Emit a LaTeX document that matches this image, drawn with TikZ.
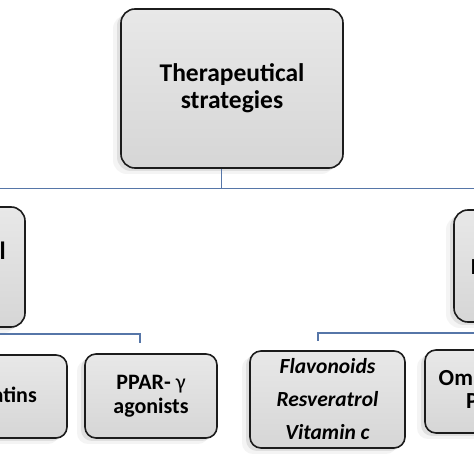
\documentclass[tikz,border=0pt]{standalone}
\usepackage{fontspec}
\setmainfont{Carlito}
\usetikzlibrary{shadows,calc}
\definecolor{boxtop}{RGB}{232,232,232}
\definecolor{boxbot}{RGB}{214,214,214}
\definecolor{boxedge}{RGB}{28,28,28}
\definecolor{linkblue}{RGB}{86,118,168}
\definecolor{shadowgray}{RGB}{150,150,150}
\begin{document}
\begin{tikzpicture}[x=1pt,y=1pt,
  box/.style={draw=boxedge, line width=1.6pt, rounded corners=11pt,
    top color=boxtop, bottom color=boxbot, inner sep=0pt, align=center,
    drop shadow={shadow xshift=-8pt, shadow yshift=-6pt, fill=shadowgray, opacity=0.10},
    drop shadow={shadow xshift=-4pt, shadow yshift=-3pt, fill=shadowgray, opacity=0.22}},
  bigbox/.style={box, rounded corners=14pt},
  link/.style={draw=linkblue, line width=1.5pt},
  lbl/.style={inner sep=0pt, font=\fontsize{21}{23}\selectfont\bfseries}
]
\useasboundingbox (0,0) rectangle (474,474);
\fill[white] (0,0) rectangle (474,474);

% top box
\node[bigbox, minimum width=222pt, minimum height=159pt,
  font=\fontsize{25.5}{27}\selectfont\bfseries] (top) at (232,385.5)
  {Therapeutical\\strategies};

% middle boxes (partly off the page)
\node[bigbox, minimum width=145pt, minimum height=120pt] (midL) at (-47.5,207) {};
\node[bigbox, minimum width=146pt, minimum height=112pt] (midR) at (527,208) {};
\node[lbl, font=\fontsize{25}{27}\selectfont\bfseries, anchor=base east] (midLt) at (6,214) {l};
\node[lbl, font=\fontsize{23}{25}\selectfont\bfseries, anchor=base west] (midRt) at (470.5,199) {I};

% bottom boxes
\node[box, minimum width=147pt, minimum height=83pt] (statins) at (-6.5,77.5) {};
\node[lbl, font=\fontsize{22}{23}\selectfont\bfseries, anchor=base east] (statinst) at (37,71) {atins};

\node[box, minimum width=132pt, minimum height=84pt,
  font=\fontsize{22}{23.5}\selectfont\bfseries] (ppar) at (151,78)
  {PPAR- {\mdseries γ}\\agonists};

\node[box, minimum width=155pt, minimum height=97pt,
  font=\fontsize{21.5}{33}\selectfont\bfseries\itshape] (flav) at (327.5,74.5)
  {Flavonoids\\Resveratrol\\Vitamin c};

\node[box, minimum width=135pt, minimum height=83pt] (omega) at (492.5,82.5) {};
\node[lbl, font=\fontsize{23}{25}\selectfont\bfseries, anchor=base west] (omegaA) at (438.5,88) {Om};
\node[lbl, font=\fontsize{23}{25}\selectfont\bfseries, anchor=base west] (omegaB) at (466,65) {P};

% connectors
\coordinate (stemTop) at ($(top.south)+(-10.5,0)$);
\coordinate (stemEnd) at ($(top.south)+(-10.5,-20.5)$);
\coordinate (hL) at (-10,285.5);
\coordinate (hR) at (484,285.5);
\draw[link] (stemTop) -- (stemEnd);
\draw[link] (hL) -- (hR);

\coordinate (lL) at (-10,140);
\coordinate (lD) at (140,131);
\draw[link] (lL) -| (lD);

\coordinate (rR) at (484,141);
\coordinate (rD) at (318,133);
\draw[link] (rR) -| (rD);
\end{tikzpicture}
\end{document}
